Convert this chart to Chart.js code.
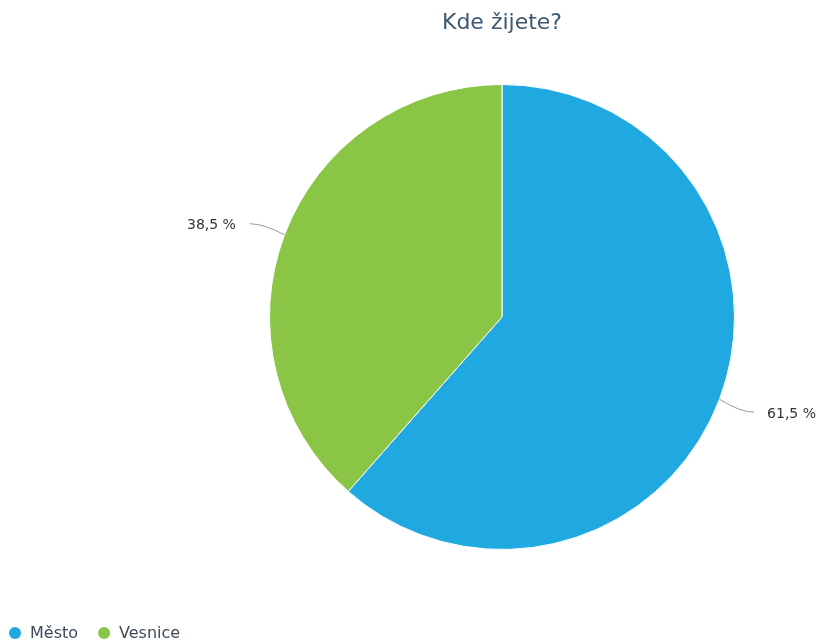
<!DOCTYPE html>
<html><head><meta charset="utf-8">
<script src="https://cdn.jsdelivr.net/npm/chart.js@4/dist/chart.umd.min.js"></script>
<style>html,body{margin:0;padding:0;background:#fff}#wrap{width:821px;height:643px;position:relative}</style>
</head><body><div id="wrap"><canvas id="c" width="821" height="643"></canvas></div>
<script>
const titleText = "Kde žijete?";
const categories = ["Město", "Vesnice"];
const values = [61.5, 38.5];
const colors = ["#20a9e1", "#8bc546"];

const FONT = "'DejaVu Sans', sans-serif";

const overlay = {
  id: 'overlay',
  afterDraw(chart) {
    const ctx = chart.ctx;
    const meta = chart.getDatasetMeta(0);
    ctx.save();
    // title
    ctx.fillStyle = '#3e576f';
    ctx.font = '22px ' + FONT;
    ctx.textAlign = 'center';
    ctx.textBaseline = 'middle';
    const a0 = meta.data[0];
    ctx.fillText(titleText, a0.x, 23);
    // data labels
    meta.data.forEach((arc, i) => {
      const mid = (arc.startAngle + arc.endAngle) / 2;
      const r = arc.outerRadius;
      const cx = arc.x, cy = arc.y;
      const ex = cx + Math.cos(mid) * r, ey = cy + Math.sin(mid) * r;
      const right = Math.cos(mid) >= 0;
      const ox = cx + Math.cos(mid) * (r + 37), oy = cy + Math.sin(mid) * (r + 37) + (right ? 0 : 2);
      ctx.strokeStyle = '#9a9a9a';
      ctx.lineWidth = 1;
      ctx.beginPath();
      ctx.moveTo(ex, ey);
      ctx.quadraticCurveTo(ex + (ox - ex) * 0.6, oy, ox, oy);
      ctx.stroke();
      ctx.fillStyle = '#333';
      ctx.font = '14px ' + FONT;
      ctx.textBaseline = 'middle';
      ctx.textAlign = right ? 'left' : 'right';
      const txt = values[i].toFixed(1).replace('.', ',') + ' %';
      ctx.fillText(txt, ox + (right ? 13 : -14), oy + 2);
    });
    // legend
    let x = 15;
    const ly = 633;
    ctx.font = '16px ' + FONT;
    ctx.textAlign = 'left';
    categories.forEach((c, i) => {
      ctx.fillStyle = colors[i];
      ctx.beginPath();
      ctx.arc(x, ly, 6, 0, Math.PI * 2);
      ctx.fill();
      ctx.fillStyle = '#3e4a58';
      ctx.fillText(c, x + 15, ly + 1);
      x += 15 + ctx.measureText(c).width + 26;
    });
    ctx.restore();
  }
};

new Chart(document.getElementById('c'), {
  type: 'pie',
  data: {
    labels: categories,
    datasets: [{ data: values, backgroundColor: colors, borderColor: '#ffffff', borderWidth: 1 }]
  },
  options: {
    responsive: false,
    animation: false,
    layout: { padding: { left: 269, right: 86, top: 84, bottom: 93 } },
    plugins: { legend: { display: false }, title: { display: false }, tooltip: { enabled: false } }
  },
  plugins: [overlay]
});
</script>
</body></html>
